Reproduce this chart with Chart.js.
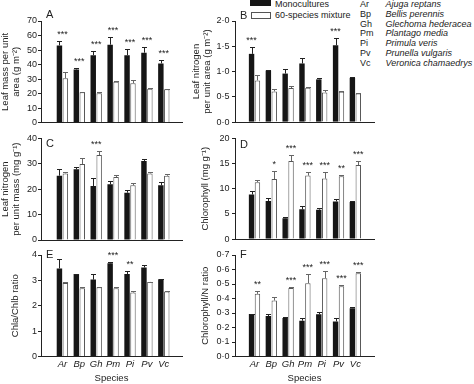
<!DOCTYPE html>
<html>
<head>
<meta charset="utf-8">
<script src="https://cdn.jsdelivr.net/npm/chart.js@4.4.1/dist/chart.umd.min.js"></script>
<style>
  body { margin: 0; background: #fff; width: 474px; height: 384px; position: relative; overflow: hidden;
         font-family: "Liberation Sans", Arial, sans-serif; color: #222; }
  canvas { position: absolute; }
  .t { position: absolute; font-size: 9px; line-height: 11px; white-space: nowrap; }
  .box { position: absolute; box-sizing: border-box; }
  i { font-style: italic; }
</style>
</head>
<body>
<div class="box" style="left:250px;top:-2px;width:21px;height:8px;background:#161616"></div>
<div class="t" style="left:275px;top:-1px">Monocultures</div>
<div class="box" style="left:251px;top:12px;width:20px;height:7px;border:1px solid #555;background:#fff"></div>
<div class="t" style="left:275px;top:10px">60-species mixture</div>
<div id="spp"></div>

<canvas id="cA" width="190" height="130" style="left:0;top:0"></canvas>
<canvas id="cB" width="190" height="130" style="left:190px;top:0"></canvas>
<canvas id="cC" width="190" height="130" style="left:0;top:117px"></canvas>
<canvas id="cD" width="190" height="130" style="left:190px;top:117px"></canvas>
<canvas id="cE" width="190" height="150" style="left:0;top:234px"></canvas>
<canvas id="cF" width="190" height="150" style="left:190px;top:234px"></canvas>

<script>
// species codes and names
const species = ['Ar', 'Bp', 'Gh', 'Pm', 'Pi', 'Pv', 'Vc'];
const speciesNames = ['Ajuga reptans', 'Bellis perennis', 'Glechoma hederacea', 'Plantago media',
  'Primula veris', 'Prunella vulgaris', 'Veronica chamaedrys'];

// A - leaf mass per unit area
const aMono = [53.2, 36.6, 46.5, 53.7, 46.5, 48.2, 40.8];
const aMonoErr = [3.2, 0.9, 3.0, 5.5, 4.2, 3.8, 2.5];
const aMix = [30.6, 21.0, 20.3, 28.1, 27.2, 23.3, 23.0];
const aMixErr = [4.2, 0.4, 0.7, 0.9, 2.3, 0.4, 0.3];
const aStars = ['***', '***', '***', '***', '***', '***', '***'];

// B - leaf nitrogen per unit area
const bMono = [1.35, 1.02, 0.96, 1.16, 0.845, 1.52, 0.875];
const bMonoErr = [0.13, 0.02, 0.1, 0.11, 0.035, 0.15, 0.012];
const bMix = [0.825, 0.607, 0.673, 0.68, 0.587, 0.6, 0.568];
const bMixErr = [0.11, 0.04, 0.047, 0.02, 0.047, 0.007, 0.005];
const bStars = ['***', '', '', '', '', '***', ''];

// C - leaf nitrogen per unit mass
const cMono = [25.3, 27.8, 21.2, 21.9, 18.6, 31.1, 21.5];
const cMonoErr = [2.5, 0.9, 3.1, 1.3, 0.9, 0.9, 1.2];
const cMix = [26.2, 29.9, 33.4, 24.8, 21.5, 26.2, 25.3];
const cMixErr = [0.6, 2.5, 1.6, 0.6, 0.8, 0.6, 0.7];
const cStars = ['', '', '***', '', '', '', ''];

// D - chlorophyll
const dMono = [8.85, 7.54, 4.13, 5.9, 5.84, 7.48, 7.34];
const dMonoErr = [0.75, 0.66, 0.33, 0.66, 0.36, 0.39, 0.2];
const dMix = [11.3, 11.9, 15.5, 12.6, 12.0, 12.46, 14.7];
const dMixErr = [0.4, 1.7, 1.2, 0.7, 1.3, 0.24, 0.8];
const dStars = ['', '*', '***', '***', '***', '**', '***'];

// E - chla/chlb
const eMono = [3.47, 3.25, 3.03, 3.67, 3.25, 3.51, 3.04];
const eMonoErr = [0.37, 0.01, 0.22, 0.07, 0.12, 0.09, 0.02];
const eMix = [2.9, 2.69, 2.73, 2.69, 2.52, 2.94, 2.56];
const eMixErr = [0.04, 0.06, 0.01, 0.05, 0.06, 0.01, 0.02];
const eStars = ['', '', '', '***', '**', '', ''];

// F - chlorophyll/N
const fMono = [0.293, 0.279, 0.266, 0.247, 0.291, 0.242, 0.333];
const fMonoErr = [0.003, 0.014, 0.003, 0.016, 0.019, 0.021, 0.007];
const fMix = [0.432, 0.386, 0.473, 0.506, 0.54, 0.485, 0.575];
const fMixErr = [0.023, 0.025, 0.007, 0.064, 0.05, 0.005, 0.005];
const fStars = ['**', '', '***', '***', '***', '***', '***'];

// species list top right
document.getElementById('spp').innerHTML = species.map((s, i) =>
  '<div class="t" style="left:360px;top:' + (-1 + i * 9.75) + 'px">' + s + '</div>' +
  '<div class="t" style="left:385.5px;top:' + (-1 + i * 9.75) + 'px"><i>' + speciesNames[i] + '</i></div>'
).join('');

const FONT = '"Liberation Sans", Arial, sans-serif';
const pts = arr => arr.map((v, i) => ({ x: i + 1, y: v }));

// error bars, asterisks and panel letter
const extras = {
  id: 'extras',
  afterDatasetsDraw(chart, args, opts) {
    const { ctx, chartArea, scales: { y } } = chart;
    ctx.save();
    chart.data.datasets.forEach((ds, di) => {
      chart.getDatasetMeta(di).data.forEach((bar, i) => {
        const v = ds.data[i].y;
        const y0 = y.getPixelForValue(v), y1 = Math.round(y.getPixelForValue(v + ds.err[i])) + 0.5;
        const bx = Math.round(bar.x) + 0.5;
        ctx.strokeStyle = ds.errColor;
        ctx.lineWidth = 1;
        ctx.beginPath();
        ctx.moveTo(bx, y0); ctx.lineTo(bx, y1);
        ctx.moveTo(bx - 2.5, y1); ctx.lineTo(bx + 2.5, y1);
        ctx.stroke();
      });
    });

    const m = chart.getDatasetMeta(0).data, w = chart.getDatasetMeta(1).data;
    const d0 = chart.data.datasets[0], d1 = chart.data.datasets[1];
    ctx.fillStyle = '#222';
    ctx.font = '9px ' + FONT;
    ctx.textAlign = 'center';
    ctx.textBaseline = 'alphabetic';
    opts.stars.forEach((s, i) => {
      if (!s) return;
      const top = Math.min(y.getPixelForValue(d0.data[i].y + d0.err[i]), y.getPixelForValue(d1.data[i].y + d1.err[i]));
      const x = m[i].x + (w[i].x - m[i].x) * opts.starPos;
      ctx.fillText(s, x, top - 4);
    });

    ctx.font = '11px ' + FONT;
    ctx.textAlign = 'left';
    ctx.fillText(opts.letter, chartArea.left + 5, chartArea.top + opts.letterDy + 8);
    ctx.restore();
  }
};

function panel(id, p) {
  const left = p.col === 0;
  const bottomRow = p.row === 2;
  new Chart(document.getElementById(id), {
    type: 'bar',
    data: {
      datasets: [{
        data: pts(p.mono), err: p.monoErr, errColor: '#222',
        backgroundColor: '#161616', borderWidth: 0,
        categoryPercentage: 0.7, barPercentage: 0.92
      }, {
        data: pts(p.mix), err: p.mixErr, errColor: '#666',
        backgroundColor: '#fff', borderColor: '#555', borderWidth: 1,
        categoryPercentage: 0.7, barPercentage: 0.92
      }]
    },
    options: {
      responsive: false,
      animation: false,
      devicePixelRatio: 1,
      layout: { padding: { left: 0, right: left ? 8 : 6, top: p.padTop, bottom: 0 } },
      plugins: {
        legend: { display: false },
        tooltip: { enabled: false },
        extras: { letter: p.letter, letterDy: p.letterDy, stars: p.stars, starPos: p.starPos }
      },
      scales: {
        x: {
          type: 'linear',
          bounds: 'data',
          min: left ? 0.33 : 0.43,
          max: left ? 7.48 : 7.52,
          grid: { display: false, drawTicks: false },
          border: { color: '#222' },
          afterBuildTicks: s => { s.ticks = species.map((_, i) => ({ value: i + 1 })); },
          afterFit: s => { s.height = p.xh; },
          ticks: {
            display: bottomRow,
            autoSkip: false,
            maxRotation: 0,
            padding: 2,
            color: '#222',
            font: { family: FONT, size: 9.5, style: 'italic' },
            callback: v => species[v - 1]
          },
          title: {
            display: bottomRow,
            text: 'Species',
            color: '#222',
            padding: { top: 0, bottom: 0.3 },
            font: { family: FONT, size: 9.5 }
          }
        },
        y: {
          min: 0,
          max: p.max,
          afterFit: s => { s.width = left ? 41 : 45; },
          grid: { drawOnChartArea: false, tickLength: 3, color: '#222' },
          border: { color: '#222' },
          ticks: {
            stepSize: p.step,
            padding: left ? 1 : 2.5,
            color: '#222',
            font: { family: FONT, size: 9 },
            callback: v => p.dec ? v.toFixed(p.dec).replace('.', '\u00b7') : v
          },
          title: {
            display: true,
            text: p.title,
            color: '#222',
            padding: { top: p.titlePad, bottom: 0 },
            font: { family: FONT, size: 9.5, lineHeight: 1.15 }
          }
        }
      }
    },
    plugins: [extras]
  });
}

panel('cA', { col: 0, row: 0, padTop: 21, xh: 7.3, mono: aMono, monoErr: aMonoErr, mix: aMix, mixErr: aMixErr,
  stars: aStars, starPos: 0.5, letter: 'A', letterDy: -11, max: 70, step: 10, dec: 0,
  title: ['Leaf mass per unit', 'area (g m\u207b\u00b2)'], titlePad: 0 });
panel('cB', { col: 1, row: 0, padTop: 21, xh: 7.3, mono: bMono, monoErr: bMonoErr, mix: bMix, mixErr: bMixErr,
  stars: bStars, starPos: 0, letter: 'B', letterDy: -10, max: 2, step: 0.5, dec: 1,
  title: ['Leaf nitrogen', 'per unit area (g m\u207b\u00b2)'], titlePad: 1.2 });
panel('cC', { col: 0, row: 1, padTop: 21.3, xh: 7, mono: cMono, monoErr: cMonoErr, mix: cMix, mixErr: cMixErr,
  stars: cStars, starPos: 0.5, letter: 'C', letterDy: 1, max: 40, step: 10, dec: 0,
  title: ['Leaf nitrogen', 'per unit mass (mg g\u207b\u00b9)'], titlePad: 0 });
panel('cD', { col: 1, row: 1, padTop: 21.3, xh: 7, mono: dMono, monoErr: dMonoErr, mix: dMix, mixErr: dMixErr,
  stars: dStars, starPos: 1, letter: 'D', letterDy: 1.5, max: 20, step: 5, dec: 0,
  title: 'Chlorophyll (mg g\u207b\u00b9)', titlePad: 9.5 });
panel('cE', { col: 0, row: 2, padTop: 21, xh: 27.5, mono: eMono, monoErr: eMonoErr, mix: eMix, mixErr: eMixErr,
  stars: eStars, starPos: 0.5, letter: 'E', letterDy: -5, max: 4, step: 1, dec: 0,
  title: 'Chla/Chlb ratio', titlePad: 9.5 });
panel('cF', { col: 1, row: 2, padTop: 21, xh: 27.5, mono: fMono, monoErr: fMonoErr, mix: fMix, mixErr: fMixErr,
  stars: fStars, starPos: 1, letter: 'F', letterDy: -5, max: 0.7, step: 0.1, dec: 1,
  title: 'Chlorophyll/N ratio', titlePad: 10.2 });
</script>
</body>
</html>
